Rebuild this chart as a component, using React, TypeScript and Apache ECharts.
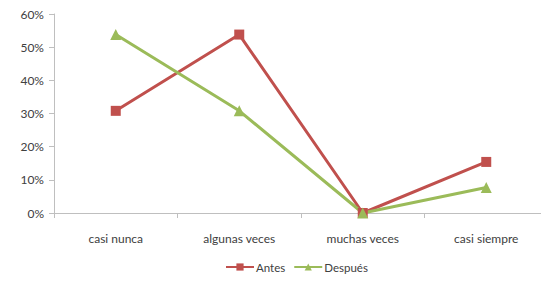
import React, { useEffect, useRef } from "react";
import * as echarts from "echarts";

const categories = ["casi nunca", "algunas veces", "muchas veces", "casi siempre"];
const antes = [30.8, 53.8, 0, 15.4];
const despues = [53.8, 30.8, 0, 7.7];
const yTicks = [0, 10, 20, 30, 40, 50, 60];

export default function App() {
  const ref = useRef<HTMLDivElement>(null);
  useEffect(() => {
    const chart = echarts.init(ref.current!, null, { renderer: "svg" });
    const font = "Lato, 'Liberation Sans', sans-serif";
    chart.setOption({
      animation: false,
      backgroundColor: "#ffffff",
      textStyle: { fontFamily: font },
      grid: { left: 54, right: 0, top: 14, bottom: 72, containLabel: false },
      legend: {
        bottom: 7,
        left: 220,
        itemWidth: 28,
        itemHeight: 9,
        itemGap: 8,
        textStyle: { color: "#404040", fontSize: 11.5, fontFamily: font, padding: [0, 0, 0, -3] },
        data: ["Antes", "Después"],
      },
      xAxis: {
        type: "category",
        data: categories,
        boundaryGap: true,
        axisLine: { lineStyle: { color: "#bfbfbf", width: 1 } },
        axisTick: { show: true, length: 5, lineStyle: { color: "#bfbfbf" } },
        axisLabel: { color: "#404040", fontSize: 12, margin: 19, fontFamily: font },
        splitLine: { show: false },
      },
      yAxis: {
        type: "value",
        min: yTicks[0],
        max: yTicks[yTicks.length - 1],
        interval: 10,
        axisLine: { show: true, lineStyle: { color: "#bfbfbf", width: 1 } },
        axisTick: { show: true, length: 5, lineStyle: { color: "#bfbfbf" } },
        axisLabel: { color: "#404040", fontSize: 12, margin: 10, formatter: "{value}%", fontFamily: font },
        splitLine: { show: false },
      },
      series: [
        {
          name: "Antes",
          type: "line",
          data: antes,
          color: "#c0504d",
          symbol: "rect",
          symbolSize: 10,
          lineStyle: { width: 3, color: "#c0504d" },
          itemStyle: { color: "#c0504d" },
        },
        {
          name: "Después",
          type: "line",
          data: despues,
          color: "#9bbb59",
          symbol: "triangle",
          symbolSize: 11,
          lineStyle: { width: 3, color: "#9bbb59" },
          itemStyle: { color: "#9bbb59" },
        },
      ],
    });
    return () => chart.dispose();
  }, []);
  return (
    <div style={{ width: 541, height: 285, position: "absolute", left: 0, top: 0, overflow: "hidden", background: "#fff" }}>
      <div ref={ref} style={{ width: 548, height: 285 }} />
    </div>
  );
}
